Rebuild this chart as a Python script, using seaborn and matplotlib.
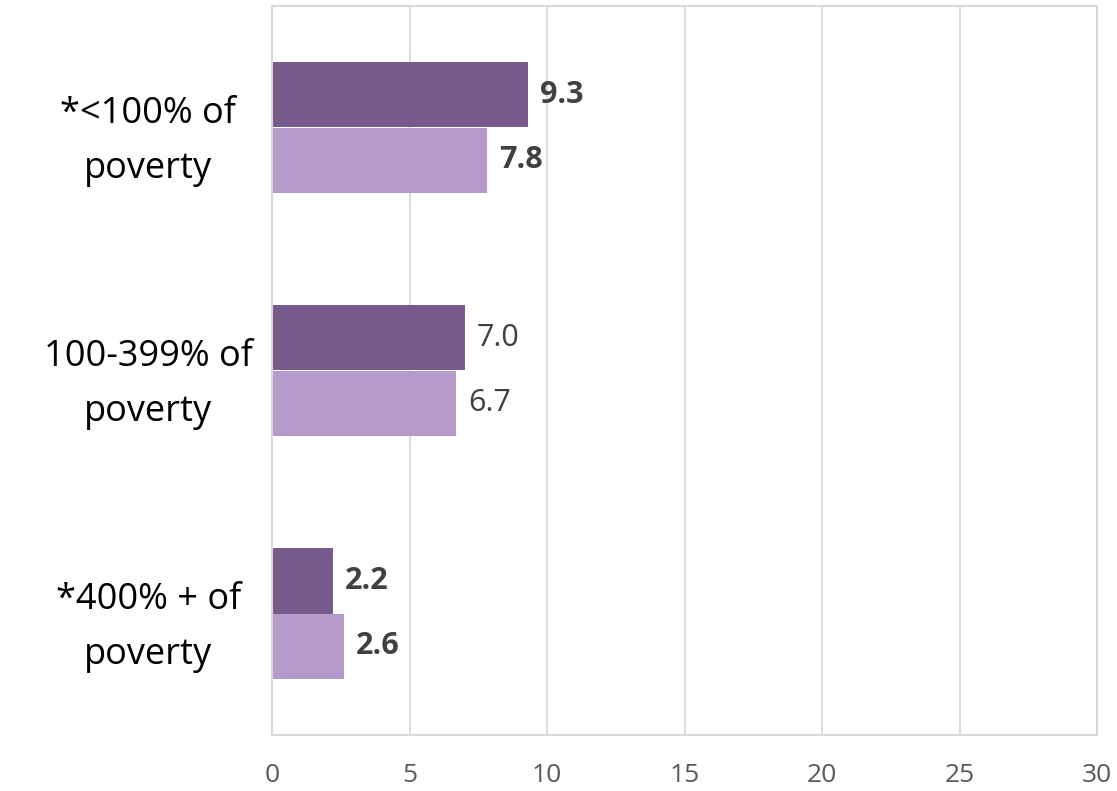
import matplotlib
matplotlib.use("Agg")
import matplotlib.pyplot as plt
import seaborn as sns
import pandas as pd

# data
categories = ["*<100% of\npoverty", "100-399% of\npoverty", "*400% + of\npoverty"]
series_names = ["Series 1", "Series 2"]
series1 = [9.3, 7.0, 2.2]
series2 = [7.8, 6.7, 2.6]
bold_labels = [True, False, True]

df = pd.DataFrame({
    "cat": categories * 2,
    "series": [series_names[0]] * 3 + [series_names[1]] * 3,
    "value": series1 + series2,
})

sns.set_style("white")
plt.rcParams["font.family"] = ["Open Sans", "DejaVu Sans"]

fig = plt.figure(figsize=(11.17, 7.91), dpi=100)
ax = fig.add_axes([272 / 1117, 1 - 735 / 791, 825 / 1117, 729 / 791])

sns.barplot(data=df, x="value", y="cat", hue="series", orient="h",
            palette=["#765A8B", "#B59BCB"], width=0.535, ax=ax,
            legend=False, saturation=1, errorbar=None, linewidth=0)

ax.set_xlim(0, 30)
ax.set_xticks(range(0, 31, 5))
ax.set_ylim(2.5, -0.5)
ax.set_xlabel("")
ax.set_ylabel("")

ax.grid(axis="x", color="#D9D9D9", linewidth=1.3)
ax.set_axisbelow(True)
for s in ax.spines.values():
    s.set_color("#D9D9D9")
    s.set_linewidth(1.5)

ax.tick_params(axis="x", labelsize=19, colors="#595959", length=0, pad=20)
ax.tick_params(axis="y", labelsize=26, colors="black", length=0, pad=89)
for lbl in ax.get_yticklabels():
    lbl.set_ha("center")
    lbl.set_multialignment("center")
    lbl.set_linespacing(1.7)

# value labels
for ci, container in enumerate(ax.containers):
    vals = series1 if ci == 0 else series2
    for i, bar in enumerate(container):
        ax.annotate(f"{vals[i]:.1f}",
                    (bar.get_width(), bar.get_y() + bar.get_height() / 2),
                    xytext=(9, 0), textcoords="offset points",
                    va="center", ha="left", fontsize=22, color="#404040",
                    fontweight="bold" if bold_labels[i] else "normal")

fig.savefig("out.png", dpi=100)
